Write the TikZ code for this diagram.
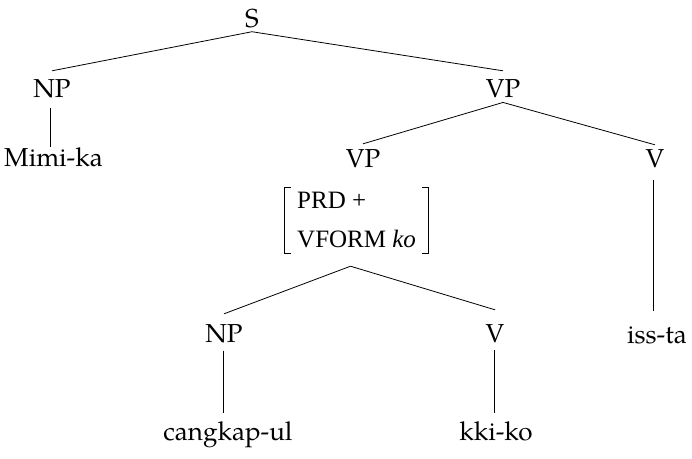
\documentclass[tikz,border=0pt]{standalone}
\usepackage{fontspec}
\setmainfont{TeX Gyre Pagella}
\newfontfamily\avmfont{Liberation Serif}
\usetikzlibrary{calc}
\begin{document}
\begin{tikzpicture}[x=1pt,y=-1pt,
  tn/.style={font=\fontsize{26}{30}\selectfont, inner sep=0pt, anchor=base},
  av/.style={font=\avmfont\fontsize{25}{30}\selectfont, inner sep=0pt, anchor=base west},
  edge/.style={line width=0.8pt}]
\useasboundingbox (0,0) rectangle (692,458);
% labels
\node[tn] (S) at (252,27) {S};
\node[tn] (NP) at (52,97) {NP};
\node[tn] (VPa) at (503,97) {VP};
\node[tn] (Mimi) at (53.5,166) {Mimi-ka};
\node[tn] (VPb) at (363,167) {VP};
\node[tn] (Vr) at (655,167) {V};
\node[inner sep=0pt, minimum width=143pt, minimum height=65pt] (avm) at (356.5,220.5) {};
\node[av] (prd) at (297,208) {PRD +};
\node[av] (vform) at (297,247) {VFORM \textit{ko}};
\node[tn] (NPb) at (224,342) {NP};
\node[tn] (Vb) at (495,342) {V};
\node[tn] (issta) at (657,343) {iss-ta};
\node[tn] (cang) at (228,440) {cangkap-ul};
\node[tn] (kki) at (496,440) {kki-ko};
\coordinate (avmv) at ([xshift=-6pt,yshift=-13pt]avm.south);
% brackets
\draw[edge] ([xshift=6pt]avm.north west) -- (avm.north west) -- (avm.south west) -- ([xshift=6pt]avm.south west);
\draw[edge] ([xshift=-6pt]avm.north east) -- (avm.north east) -- (avm.south east) -- ([xshift=-6pt]avm.south east);
% edges
\draw[edge] ([yshift=-4pt]S.south) -- ([yshift=8pt]NP.north);
\draw[edge] ([yshift=-4pt]S.south) -- ([yshift=8pt]VPa.north);
\draw[edge] ([yshift=-10pt,xshift=-2pt]NP.south) -- ([xshift=-2pt]NP.south |- Mimi.north);
\draw[edge] ([yshift=-5pt]VPa.south) -- ([yshift=5pt]VPb.north);
\draw[edge] ([yshift=-5pt]VPa.south) -- ([yshift=4pt]Vr.north);
\draw[edge] ([yshift=-13pt,xshift=-2pt]Vr.south) -- ([xshift=-2pt,yshift=15pt]Vr.south |- issta.north);
\draw[edge] (avmv) -- ([yshift=10pt]NPb.north);
\draw[edge] (avmv) -- ([yshift=14pt]Vb.north);
\draw[edge] ([yshift=-8pt,xshift=-1pt]NPb.south) -- ([xshift=-1pt,yshift=8pt]NPb.south |- cang.north);
\draw[edge] ([yshift=-8pt,xshift=-1pt]Vb.south) -- ([xshift=-1pt,yshift=8pt]Vb.south |- kki.north);
\end{tikzpicture}
\end{document}
